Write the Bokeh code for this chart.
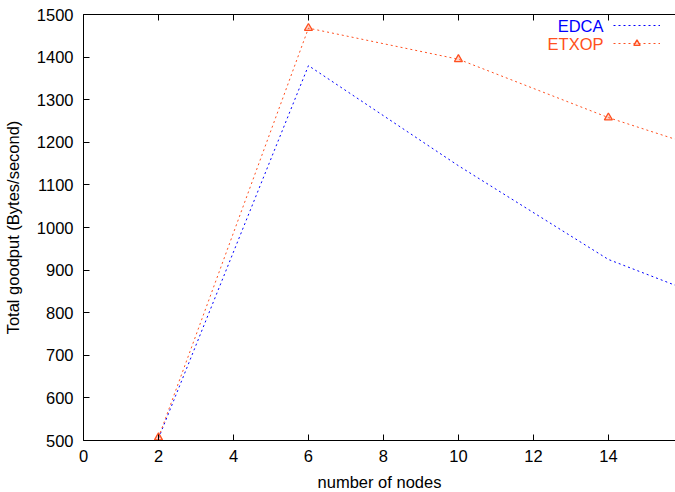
from bokeh.plotting import figure
from bokeh.models import Range1d, LinearAxis, Legend, LegendItem, Label, FixedTicker
from bokeh.core.properties import value
from bokeh.embed import file_html
from bokeh.resources import INLINE

# data
nodes = [2, 6, 10, 14, 16]
edca = [505, 1380, 1145, 925, 857]
etxop = [507, 1468, 1395, 1258, 1201]
x_ticks = [0, 2, 4, 6, 8, 10, 12, 14, 16]
y_ticks = [500, 600, 700, 800, 900, 1000, 1100, 1200, 1300, 1400, 1500]
series_names = ["EDCA", "ETXOP"]

BLUE = "#0000ff"
ORANGE = "#ff5020"
FONT = "Liberation Sans"
FS = "16.5px"

p = figure(frame_width=592, frame_height=426,
           x_range=Range1d(0, 15.79), y_range=Range1d(500, 1500),
           output_backend="svg", toolbar_location=None,
           min_border_left=75, min_border_right=0, min_border_top=14,
           min_border_bottom=10)
p.outline_line_color = None
p.xgrid.visible = False
p.ygrid.visible = False
p.background_fill_color = "white"
p.border_fill_color = "white"

for ax, ticks in ((p.xaxis[0], x_ticks), (p.yaxis[0], y_ticks)):
    ax.ticker = FixedTicker(ticks=ticks)
    ax.major_tick_in = 6
    ax.major_tick_out = 0
    ax.minor_tick_line_color = None
    ax.axis_line_color = "black"
    ax.major_tick_line_color = "black"
    ax.major_label_text_font = FONT
    ax.major_label_text_font_size = FS
    ax.major_label_text_color = "black"
    ax.axis_label_text_font = FONT
    ax.axis_label_text_font_size = FS
    ax.axis_label_text_font_style = "normal"
    ax.axis_label_text_color = "black"

p.xaxis[0].axis_label = "number of nodes"
p.xaxis[0].major_label_standoff = 9
p.xaxis[0].axis_label_standoff = 8
p.yaxis[0].axis_label = "Total goodput (Bytes/second)"
p.yaxis[0].major_label_standoff = 10
p.yaxis[0].axis_label_standoff = 12

top = LinearAxis(ticker=FixedTicker(ticks=x_ticks), major_tick_in=6, major_tick_out=0,
                 minor_tick_line_color=None, major_label_standoff=0,
                 major_label_overrides={t: "" for t in x_ticks},
                 axis_line_color="black")
p.add_layout(top, "above")

r1 = p.line(nodes, edca, line_color=BLUE, line_width=1, line_dash="2 3")
r2 = p.line(nodes, etxop, line_color=ORANGE, line_width=1, line_dash="2 3")
r3 = p.scatter(nodes, etxop, marker="triangle", size=8, line_color=ORANGE,
               fill_color=ORANGE, fill_alpha=0.25, line_width=1.3)

legend = Legend(items=[LegendItem(label=value(""), renderers=[r1]),
                       LegendItem(label=value(""), renderers=[r2, r3])],
                location=(530, 389), glyph_width=47, glyph_height=16,
                spacing=2, padding=0, margin=0, label_width=0,
                label_standoff=0, label_height=16,
                border_line_color=None, background_fill_alpha=0)
p.add_layout(legend, "center")

for i, (name, col) in enumerate(zip(series_names, [BLUE, ORANGE])):
    p.add_layout(Label(x=520, y=415 - 18 * i, x_units="screen", y_units="screen",
                       text=name, text_align="right", text_baseline="middle",
                       text_font=FONT, text_font_size=FS, text_color=col))

open("out.html", "w").write(file_html(p, INLINE))
